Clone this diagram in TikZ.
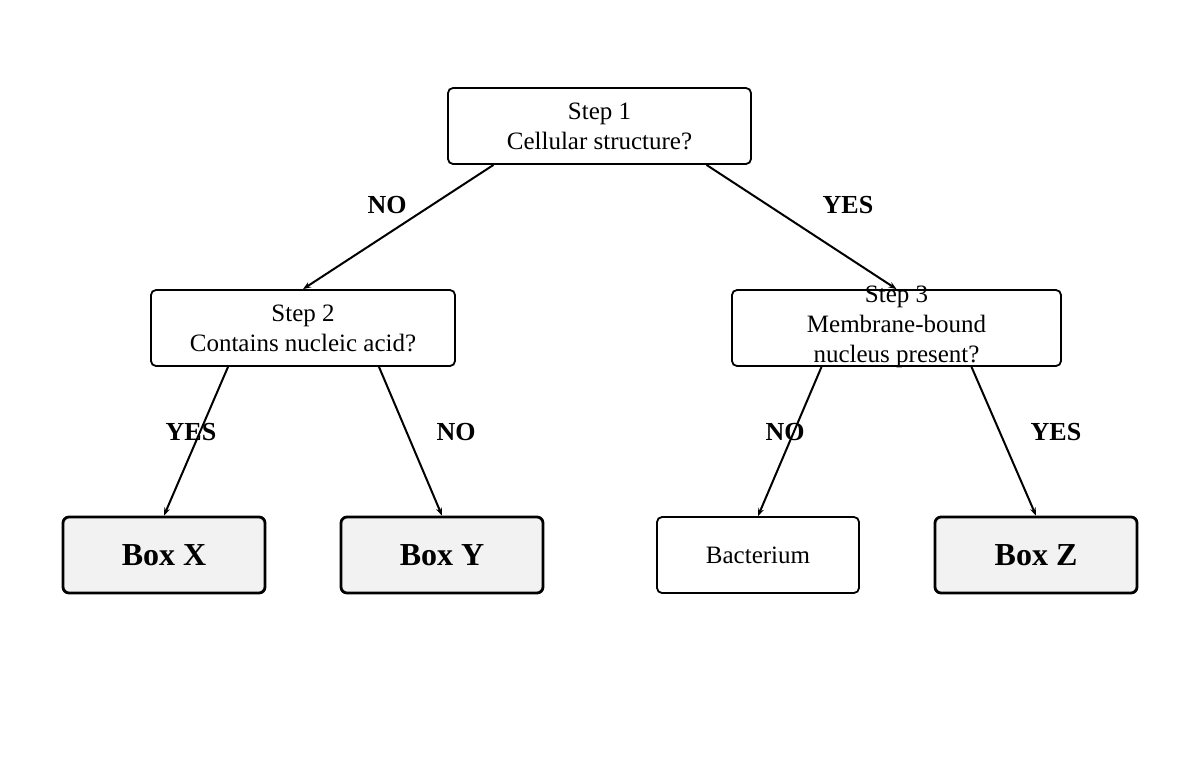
\documentclass[tikz,border=0pt]{standalone}
\usepackage{fontspec}
\setmainfont{Liberation Serif}
\usetikzlibrary{arrows.meta}
\begin{document}
\begin{tikzpicture}[x=1pt,y=-1pt,
  box/.style={draw,line width=1.8pt,rounded corners=5pt,minimum width=#1,minimum height=76pt,inner sep=0pt,align=center,font=\fontsize{25}{30}\selectfont},
  leaf/.style={draw,line width=2.8pt,rounded corners=6pt,fill=black!5,minimum width=202pt,minimum height=76pt,font=\fontsize{32}{36}\selectfont\bfseries},
  edge/.style={line width=2pt,-{Stealth[length=8pt,width=6pt]}},
  lab/.style={font=\fontsize{26}{30}\selectfont\bfseries}]
\useasboundingbox (0,0) rectangle (1200,758);
\node[box=303pt] (s1) at (599.5,126) {Step 1\\Cellular structure?};
\node[box=304pt] (s2) at (303,328) {Step 2\\Contains nucleic acid?};
\node[box=329pt,minimum height=76pt] (s3) at (896.5,328) {};
\node[align=center,font=\fontsize{25}{30}\selectfont] (s3t) at (896.5,327) {Step 3\\Membrane-bound\\nucleus present?};
\node[leaf] (bx) at (164,555) {Box X};
\node[leaf] (by) at (442,555) {Box Y};
\node[box=202pt] (bac) at (758,555) {Bacterium};
\node[leaf] (bz) at (1036,555) {Box Z};
\draw[edge] ([xshift=-106pt]s1.south) -- (s2.north);
\draw[edge] ([xshift=107pt]s1.south) -- (s3.north);
\draw[edge] ([xshift=-75pt]s2.south) -- (bx.north);
\draw[edge] ([xshift=76pt]s2.south) -- (by.north);
\draw[edge] ([xshift=-75pt]s3.south) -- (bac.north);
\draw[edge] ([xshift=75pt]s3.south) -- (bz.north);
\node[lab] (l1) at (387,205) {NO};
\node[lab] (l2) at (848,205) {YES};
\node[lab] (l3) at (191,432) {YES};
\node[lab] (l4) at (456,432) {NO};
\node[lab] (l5) at (785,432) {NO};
\node[lab] (l6) at (1056,432) {YES};
\end{tikzpicture}
\end{document}
